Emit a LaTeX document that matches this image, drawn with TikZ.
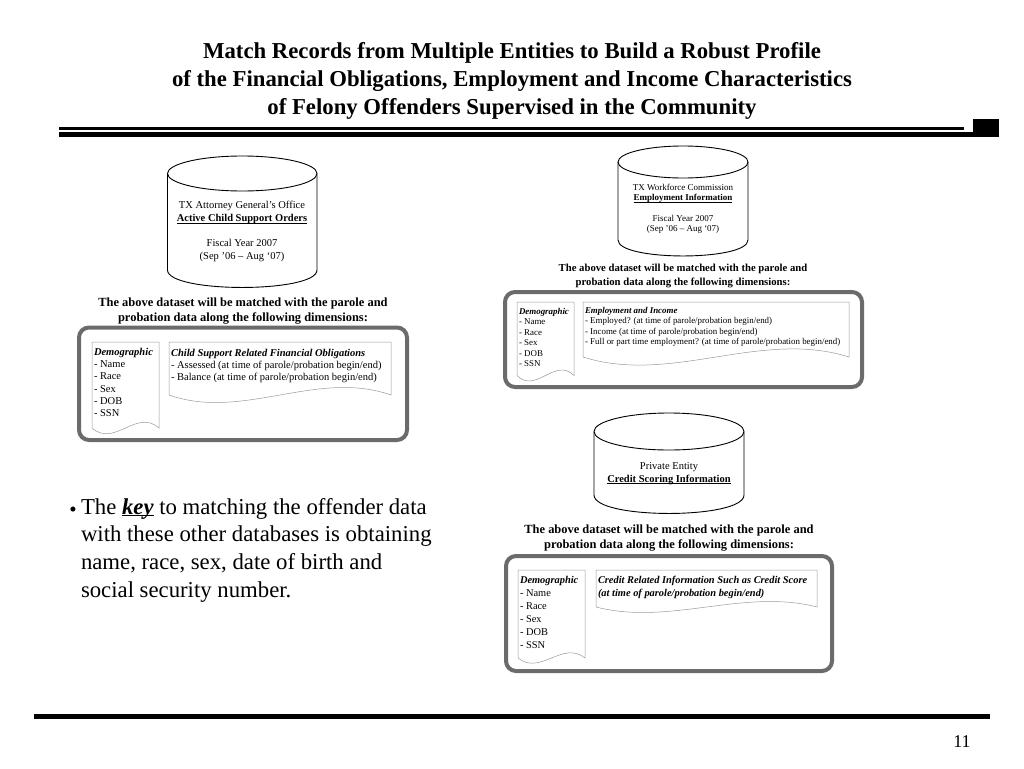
\documentclass[tikz,border=0pt]{standalone}
\usepackage{fontspec}
\setmainfont{Liberation Serif}
\usetikzlibrary{positioning}

% wavy-bottom document outline: x0, top, x1, bottom, swing
\newcommand{\docshape}[5]{%
  \draw[docline] (#1,#4) -- (#1,#2) -- (#3,#2) -- (#3,#4)
    .. controls ({#3-(#3-#1)/3},{#4-#5}) and ({#1+(#3-#1)/3},{#4+#5}) .. (#1,#4);}
% database drum: x0, x1, lid centre y, side end y, lid radius
\newcommand{\drumshape}[5]{%
  \draw[drumline] ({(#1+#2)/2},#3) ellipse [x radius={(#2-#1)/2}, y radius=#5];
  \draw[drumline] (#1,#3) -- (#1,#4)
    .. controls (#1,{#4+1.33*#5}) and (#2,{#4+1.33*#5}) .. (#2,#4) -- (#2,#3);}
\newcommand{\lowline}[1]{\underline{\smash{#1}}}

\begin{document}
\begin{tikzpicture}[
                  x=1pt, y=-1pt,
                  every node/.style={inner sep=0pt, outer sep=0pt},
                  headline/.style={font=\fontsize{22.75}{28}\selectfont\bfseries, align=center},
                  drumline/.style={draw=black, line width=0.9pt},
                  dbtext/.style={align=center, font=\fontsize{10.5}{12.6}\selectfont},
                  dbsmall/.style={align=center, font=\fontsize{9}{10.4}\selectfont},
                  matchnote/.style={align=center, font=\fontsize{12.45}{15}\selectfont\bfseries},
                  matchsmall/.style={align=center, font=\fontsize{10.7}{13.5}\selectfont\bfseries},
                  panel/.style={draw=black!58, line width=4pt, rounded corners=10pt},
                  docline/.style={draw=black!40, line width=0.5pt},
                  doctext/.style={anchor=north west, align=left, font=\fontsize{10.5}{12.3}\selectfont},
                  doclarge/.style={anchor=north west, align=left, font=\fontsize{10.4}{13}\selectfont},
                  docsmall/.style={anchor=north west, align=left, font=\fontsize{8.9}{10.5}\selectfont},
                  bodytext/.style={anchor=north west, align=left, font=\fontsize{22.75}{27.7}\selectfont},
            ]
            \useasboundingbox (0,0) rectangle (1024,768);

            % title and rules
            \node[headline] (title) at (512,81) {Match Records from Multiple Entities to Build a Robust Profile\\
              of the Financial Obligations, Employment and Income Characteristics\\
              of Felony Offenders Supervised in the Community};
            \fill (59,127) rectangle (964,129.5);
            \fill (59,132) rectangle (973,136.5);
            \fill (973,119) rectangle (999,136.5);
            \fill (34,714) rectangle (990,719);
            \node[font=\fontsize{18}{20}\selectfont] (pagenum) at (962,742) {11};

            % attorney general
            \drumshape{167.5}{317}{173.5}{270}{17.5}
            \node[dbtext] (cylAtext) at (242,231.5) {TX Attorney General’s Office\\\textbf{\lowline{Active Child Support Orders}}\\[12.6pt]Fiscal Year 2007\\(Sep ’06 – Aug ‘07)};
            \node[matchnote] (noteA) at (243,311) {The above dataset will be matched with the parole and\\probation data along the following dimensions:};
            \draw[panel] (79,327.5) rectangle (407,440);
            \docshape{92}{342}{159}{428}{20}
            \docshape{169}{342}{391}{395}{26}
            \node[doctext] (demoA) at (94,348) {\textbf{\textit{Demographic}}\\- Name\\- Race\\- Sex\\- DOB\\- SSN};
            \node[doctext] (oblig) at (171,349) {\textbf{\textit{Child Support Related Financial Obligations}}\\- Assessed (at time of parole/probation begin/end)\\- Balance (at time of parole/probation begin/end)};

            % workforce commission
            \drumshape{618}{748}{162}{240}{16}
            \node[dbsmall] (cylBtext) at (683,209) {TX Workforce Commission\\\textbf{\lowline{Employment Information}}\\[10.4pt]Fiscal Year 2007\\(Sep ’06 – Aug ‘07)};
            \node[matchsmall] (noteB) at (683,276) {The above dataset will be matched with the parole and\\probation data along the following dimensions:};
            \draw[panel] (505,292) rectangle (862,387);
            \docshape{517}{302}{574}{375.5}{19}
            \docshape{583}{302}{849}{357}{28}
            \node[docsmall] (demoB) at (519,308) {\textbf{\textit{Demographic}}\\- Name\\- Race\\- Sex\\- DOB\\- SSN};
            \node[docsmall] (employ) at (585,307) {\textbf{\textit{Employment and Income}}\\- Employed? (at time of parole/probation begin/end)\\- Income (at time of parole/probation begin/end)\\- Full or part time employment? (at time of parole/probation begin/end)};

            % private entity
            \drumshape{594}{744}{431.5}{495}{18.5}
            \node[dbtext] (cylCtext) at (669,473.5) {Private Entity\\\textbf{\lowline{Credit Scoring Information}}};
            \node[matchnote] (noteC) at (669,538) {The above dataset will be matched with the parole and\\probation data along the following dimensions:};
            \draw[panel] (506,556) rectangle (832,671);
            \docshape{518}{570}{585}{658}{18}
            \docshape{596}{570}{817}{607}{19}
            \node[doclarge] (demoC) at (520,576) {\textbf{\textit{Demographic}}\\- Name\\- Race\\- Sex\\- DOB\\- SSN};
            \node[doclarge] (credit) at (598,576) {\textbf{\textit{Credit Related Information Such as Credit Score}}\\\textbf{\textit{(at time of parole/probation begin/end)}}};

            % bullet
            \node[font=\fontsize{21}{27.7}\selectfont] (dot) at (73,512) {•};
            \node[bodytext] (keypoint) at (81,498) {The \textbf{\textit{\lowline{key}}} to matching the offender data\\with these other databases is obtaining\\name, race, sex, date of birth and\\social security number.};
      \end{tikzpicture}
\end{document}
